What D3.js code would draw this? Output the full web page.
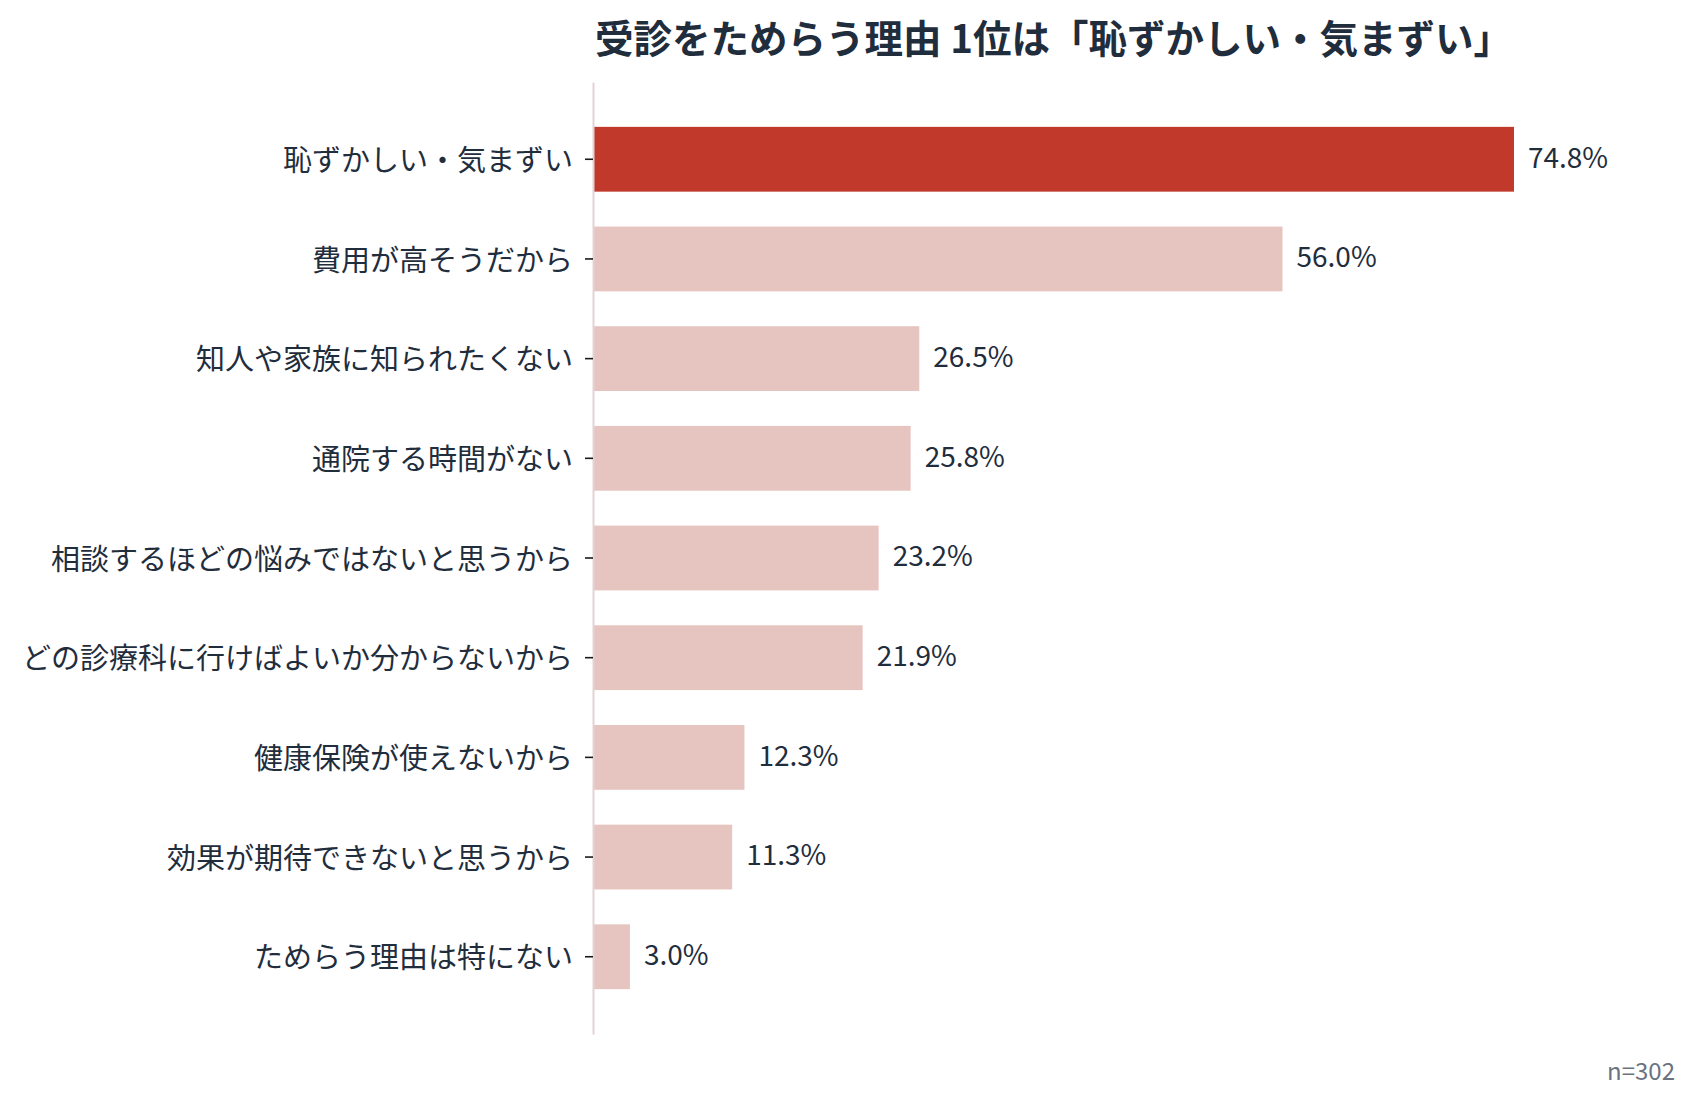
<!DOCTYPE html>
<html>
<head>
<meta charset="utf-8">
<script src="https://cdn.jsdelivr.net/npm/d3@7"></script>
<style>
  body { margin: 0; background: #fff; }
  svg { display: block; font-family: "Noto Sans CJK JP", "Noto Sans", sans-serif; }
</style>
</head>
<body>
<svg id="grafico"></svg>
<script>
// Datos del gráfico
var categorias = [
    "恥ずかしい・気まずい",
    "費用が高そうだから",
    "知人や家族に知られたくない",
    "通院する時間がない",
    "相談するほどの悩みではないと思うから",
    "どの診療科に行けばよいか分からないから",
    "健康保険が使えないから",
    "効果が期待できないと思うから",
    "ためらう理由は特にない"
];
var porcentajes = [74.8, 56.0, 26.5, 25.8, 23.2, 21.9, 12.3, 11.3, 3.0];
var titulo = "受診をためらう理由 1位は「恥ずかしい・気まずい」";
var nota = "n=302";

var anchura = 1699,
    altura = 1106;

var svg = d3.select("#grafico")
    .attr("width", anchura)
    .attr("height", altura);

var datos = categorias.map(function (c, i) { return { cat: c, val: porcentajes[i] }; });

//Escalas
var x = d3.scaleLinear()
    .domain([0, 80])
    .range([593, 593 + 985]);

var y = d3.scaleBand()
    .domain(categorias)
    .range([82, 1034])
    .paddingInner(0.35)
    .paddingOuter(0.45);

//Barras, la primera resaltada
svg.selectAll(".barra")
    .data(datos)
    .join("rect")
    .attr("class", "barra")
    .attr("x", x(0))
    .attr("y", function (d) { return y(d.cat); })
    .attr("width", function (d) { return x(d.val) - x(0); })
    .attr("height", y.bandwidth())
    .style("fill", function (d, i) { return i === 0 ? "#c0392b" : "#e6c4c0"; });

//Eje vertical con las categorias
var eje = svg.append("g")
    .attr("transform", "translate(" + x(0) + ",0)")
    .call(d3.axisLeft(y).tickSize(8).tickSizeOuter(0).tickPadding(12));

eje.select(".domain")
    .style("stroke", "#e3d3d3")
    .style("stroke-width", 2);
eje.selectAll(".tick line")
    .style("stroke", "#1a1a1a")
    .style("stroke-width", 1.6);
eje.selectAll(".tick text")
    .attr("dy", "0.4em")
    .style("font-size", "29px")
    .style("fill", "#1f2d3d")
    .style("font-family", "'Noto Sans CJK JP', sans-serif");

//Etiquetas de valor
svg.selectAll(".valor")
    .data(datos)
    .join("text")
    .attr("class", "valor")
    .attr("x", function (d) { return x(d.val) + 14; })
    .attr("y", function (d) { return y(d.cat) + y.bandwidth() / 2; })
    .attr("dy", "0.3em")
    .text(function (d) { return d.val.toFixed(1) + "%"; })
    .style("font-size", "28px")
    .style("fill", "#1f2d3d");

//Titulo
svg.append("text")
    .attr("x", 595)
    .attr("y", 53)
    .text(titulo)
    .style("font-size", "38.5px")
    .style("font-weight", "bold")
    .style("fill", "#1f2d3d");

//Tamaño de muestra
svg.append("text")
    .attr("x", 1675)
    .attr("y", 1080)
    .attr("text-anchor", "end")
    .text(nota)
    .style("font-size", "24px")
    .style("fill", "#6b7280");
</script>
</body>
</html>
